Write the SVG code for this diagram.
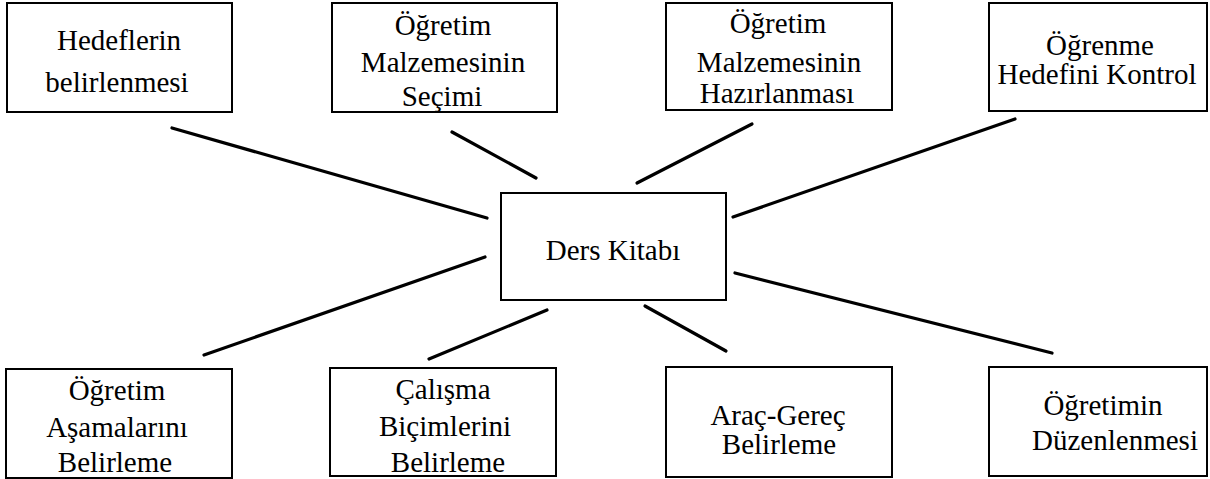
<svg xmlns="http://www.w3.org/2000/svg" width="1210" height="479" viewBox="0 0 1210 479">
<style>
.box{fill:#fff;stroke:#000;stroke-width:2}
.t{font-family:"Liberation Serif","Times New Roman",serif;font-size:29px;fill:#000;text-anchor:middle}
.c{stroke:#000;stroke-width:3.2;stroke-linecap:round;fill:none}
</style>
<rect width="1210" height="479" fill="#fff"/>
<g id="connectors">
<line class="c" x1="172" y1="128" x2="487" y2="218"/>
<line class="c" x1="452" y1="132" x2="536" y2="178"/>
<line class="c" x1="637" y1="183" x2="752" y2="124"/>
<line class="c" x1="733" y1="217" x2="1015" y2="119"/>
<line class="c" x1="204" y1="355" x2="485" y2="257"/>
<line class="c" x1="429" y1="359" x2="547" y2="310"/>
<line class="c" x1="645" y1="306" x2="726" y2="351"/>
<line class="c" x1="735" y1="273" x2="1052" y2="353"/>
</g>
<g id="n1"><rect class="box" x="7" y="3" width="225" height="109"/>
<text class="t" x="119" y="50">Hedeflerin</text><text class="t" x="117" y="92">belirlenmesi</text></g>
<g id="n2"><rect class="box" x="332" y="3" width="225" height="109"/>
<text class="t" x="443" y="35">Öğretim</text><text class="t" x="443" y="72">Malzemesinin</text><text class="t" x="442" y="106">Seçimi</text></g>
<g id="n3"><rect class="box" x="666" y="3" width="226" height="107"/>
<text class="t" x="778" y="33">Öğretim</text><text class="t" x="779" y="72">Malzemesinin</text><text class="t" x="777" y="103">Hazırlanması</text></g>
<g id="n4"><rect class="box" x="989" y="3" width="218" height="108"/>
<text class="t" x="1100" y="55">Öğrenme</text><text class="t" x="1097" y="84">Hedefini Kontrol</text></g>
<g id="center"><rect class="box" x="501" y="193" width="225" height="107"/>
<text class="t" x="613" y="260">Ders Kitabı</text></g>
<g id="n5"><rect class="box" x="6" y="369" width="226" height="109"/>
<text class="t" x="117" y="400">Öğretim</text><text class="t" x="117" y="437">Aşamalarını</text><text class="t" x="115" y="472">Belirleme</text></g>
<g id="n6"><rect class="box" x="330" y="368" width="226" height="108"/>
<text class="t" x="443" y="399">Çalışma</text><text class="t" x="445" y="436">Biçimlerini</text><text class="t" x="448" y="472">Belirleme</text></g>
<g id="n7"><rect class="box" x="666" y="367" width="226" height="110"/>
<text class="t" x="778" y="425">Araç-Gereç</text><text class="t" x="779" y="454">Belirleme</text></g>
<g id="n8"><rect class="box" x="989" y="367" width="218" height="109"/>
<text class="t" x="1103" y="415">Öğretimin</text><text class="t" x="1115" y="450">Düzenlenmesi</text></g>
</svg>
